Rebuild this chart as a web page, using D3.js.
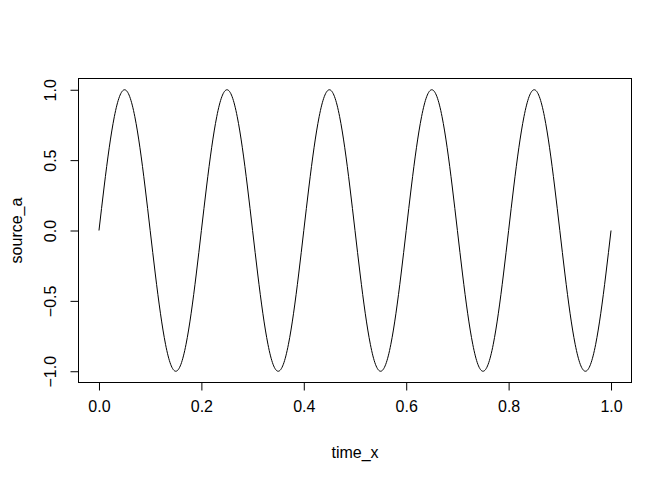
<!DOCTYPE html>
<html>
<head>
<meta charset="utf-8">
<script src="https://cdn.jsdelivr.net/npm/d3@7"></script>
<style>
  body { margin: 0; background: #fff; }
  svg text { font-family: "Liberation Sans", Arial, sans-serif; }
</style>
</head>
<body>
<div class="container"></div>
<script>
// samples, every 0.01 on time_x
const timeX = [
  0.00,0.01,0.02,0.03,0.04,0.05,0.06,0.07,0.08,0.09,
  0.10,0.11,0.12,0.13,0.14,0.15,0.16,0.17,0.18,0.19,
  0.20,0.21,0.22,0.23,0.24,0.25,0.26,0.27,0.28,0.29,
  0.30,0.31,0.32,0.33,0.34,0.35,0.36,0.37,0.38,0.39,
  0.40,0.41,0.42,0.43,0.44,0.45,0.46,0.47,0.48,0.49,
  0.50,0.51,0.52,0.53,0.54,0.55,0.56,0.57,0.58,0.59,
  0.60,0.61,0.62,0.63,0.64,0.65,0.66,0.67,0.68,0.69,
  0.70,0.71,0.72,0.73,0.74,0.75,0.76,0.77,0.78,0.79,
  0.80,0.81,0.82,0.83,0.84,0.85,0.86,0.87,0.88,0.89,
  0.90,0.91,0.92,0.93,0.94,0.95,0.96,0.97,0.98,0.99,
  1.00
]
const sourceA = [
  0,0.309,0.588,0.809,0.951,1,0.951,0.809,0.588,0.309,
  0,-0.309,-0.588,-0.809,-0.951,-1,-0.951,-0.809,-0.588,-0.309,
  0,0.309,0.588,0.809,0.951,1,0.951,0.809,0.588,0.309,
  0,-0.309,-0.588,-0.809,-0.951,-1,-0.951,-0.809,-0.588,-0.309,
  0,0.309,0.588,0.809,0.951,1,0.951,0.809,0.588,0.309,
  0,-0.309,-0.588,-0.809,-0.951,-1,-0.951,-0.809,-0.588,-0.309,
  0,0.309,0.588,0.809,0.951,1,0.951,0.809,0.588,0.309,
  0,-0.309,-0.588,-0.809,-0.951,-1,-0.951,-0.809,-0.588,-0.309,
  0,0.309,0.588,0.809,0.951,1,0.951,0.809,0.588,0.309,
  0,-0.309,-0.588,-0.809,-0.951,-1,-0.951,-0.809,-0.588,-0.309,
  0
]
const xTicks = [0, 0.2, 0.4, 0.6, 0.8, 1.0]
const yTicks = [-1, -0.5, 0, 0.5, 1]

const width = 672, height = 480
const box = {left: 78.5, right: 631.5, top: 78.5, bottom: 382.5}

const xScale = d3.scaleLinear().domain([-0.04, 1.04]).range([box.left, box.right])
const yScale = d3.scaleLinear().domain([-1.08, 1.08]).range([box.bottom, box.top])

const svg = d3.select(".container").append("svg")
  .attr("width", width).attr("height", height)
svg.append("rect").attr("width", width).attr("height", height).attr("fill", "#fff")

const line = d3.line()
  .x((d, i) => xScale(timeX[i]))
  .y(d => yScale(d))
  .curve(d3.curveNatural)

svg.append("path")
  .datum(sourceA)
  .attr("d", line)
  .attr("fill", "none")
  .attr("stroke", "#000")
  .attr("stroke-width", 1)

svg.append("rect")
  .attr("x", box.left).attr("y", box.top)
  .attr("width", box.right - box.left).attr("height", box.bottom - box.top)
  .attr("fill", "none").attr("stroke", "#000").attr("stroke-width", 1)

// x axis
const xAxis = d3.axisBottom(xScale).tickValues(xTicks).tickFormat(d3.format(".1f"))
  .tickSize(8).tickPadding(10)
const gx = svg.append("g").attr("transform", `translate(0,${box.bottom})`).call(xAxis)
gx.select(".domain").attr("d", `M${xScale(0)},0H${xScale(1)}`)
gx.selectAll("text").style("font-size", "16px").attr("fill", "#000")
gx.selectAll("line").attr("stroke", "#000")

// y axis
const yAxis = d3.axisLeft(yScale).tickValues(yTicks).tickFormat(d3.format(".1f")).tickSize(8)
const gy = svg.append("g").attr("transform", `translate(${box.left},0)`).call(yAxis)
gy.select(".domain").attr("d", `M0,${yScale(-1)}V${yScale(1)}`)
gy.selectAll("line").attr("stroke", "#000")
gy.selectAll("text")
  .style("font-size", "16px").attr("fill", "#000")
  .attr("x", 0).attr("dy", null)
  .attr("text-anchor", "middle")
  .attr("transform", "translate(-23,0) rotate(-90)")

svg.append("text").text("time_x")
  .attr("x", (box.left + box.right) / 2).attr("y", 458)
  .attr("text-anchor", "middle").style("font-size", "16px")

svg.append("text").text("source_a")
  .attr("text-anchor", "middle").style("font-size", "16px")
  .attr("transform", `translate(22,${(box.top + box.bottom) / 2}) rotate(-90)`)
</script>
</body>
</html>
